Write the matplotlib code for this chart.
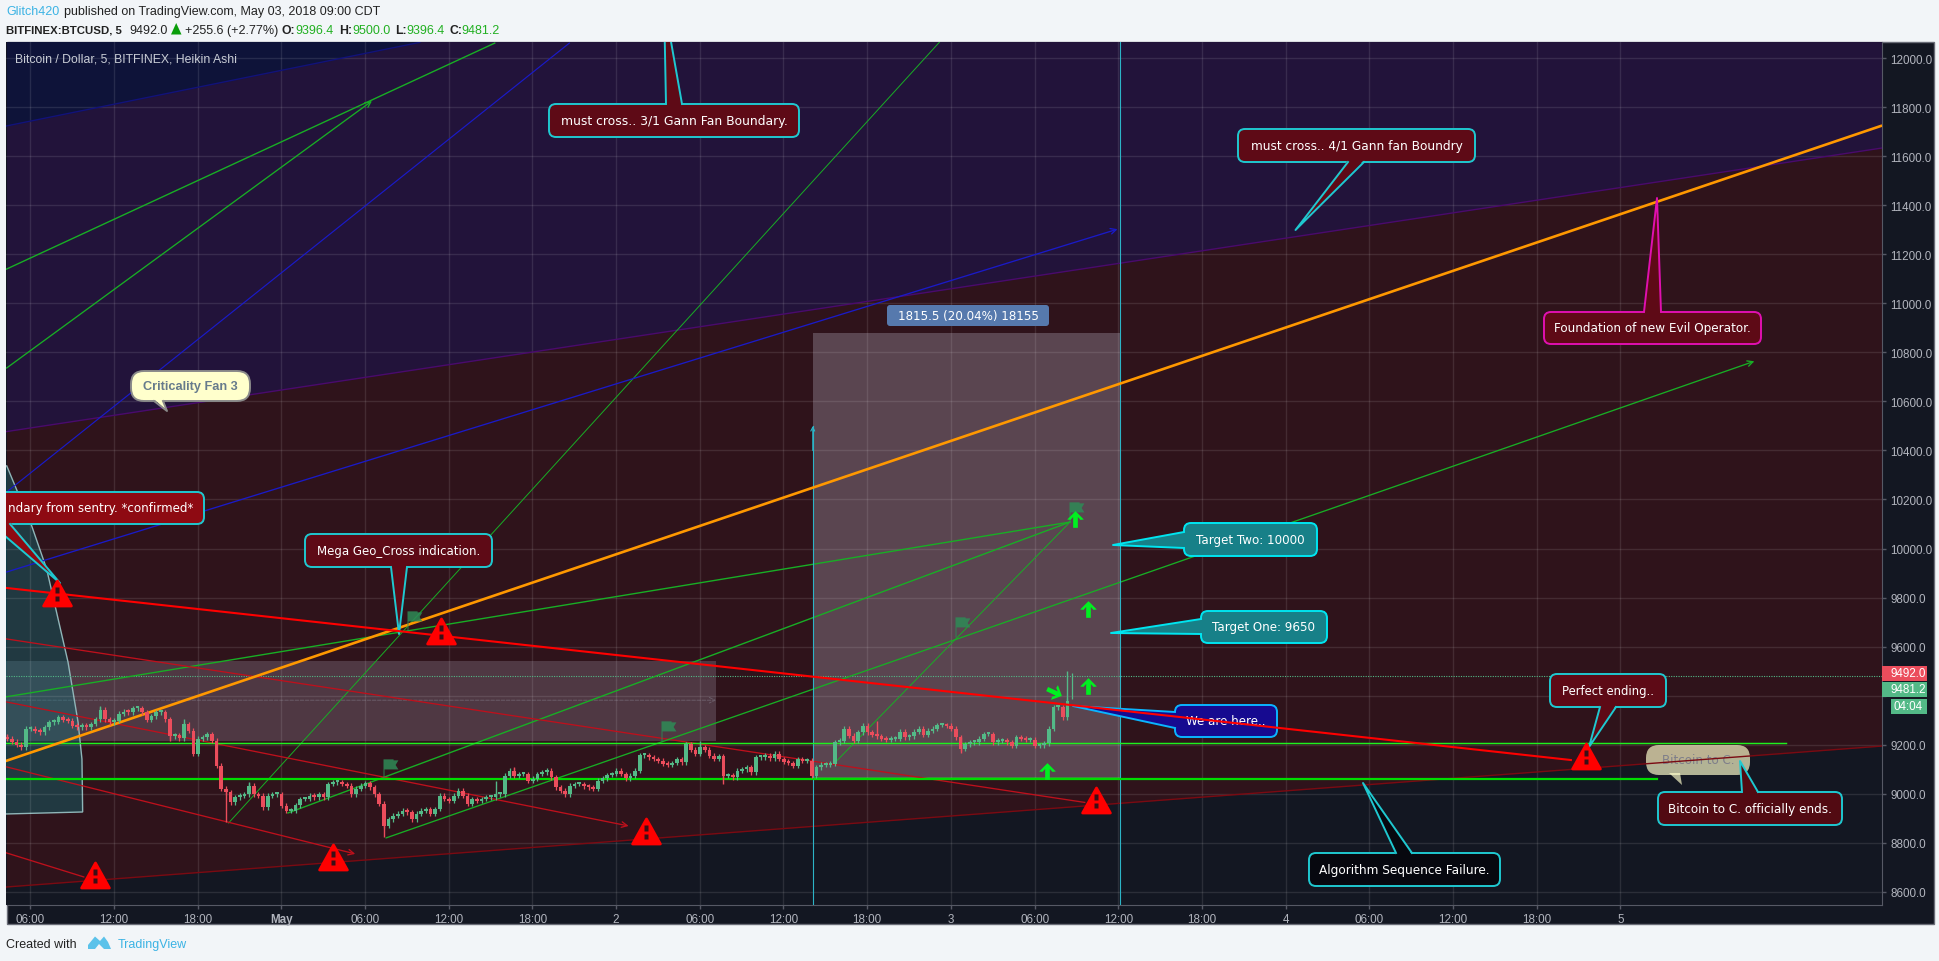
import matplotlib
matplotlib.use("Agg")
import matplotlib.pyplot as plt
import matplotlib.transforms as mtrans
from matplotlib.patches import FancyBboxPatch, Polygon, Rectangle
from matplotlib.path import Path
import numpy as np

# x unit: hours after Apr 30 06:00
tick_hours = [0, 6, 12, 18, 24, 30, 36, 42, 48, 54, 60, 66, 72, 78, 84, 90, 96, 102, 108, 114]
tick_labels = ['06:00', '12:00', '18:00', 'May', '06:00', '12:00', '18:00', '2', '06:00', '12:00',
               '18:00', '3', '06:00', '12:00', '18:00', '4', '06:00', '12:00', '18:00', '5']
price_ticks = list(range(8600, 12001, 200))

# closes, one every 20 minutes
first_hour = -1.64
closes = [
    9223, 9212, 9200, 9189, 9264, 9264, 9257, 9250, 9270, 9291, 9293, 9311, 9302, 9298, 9277, 9270,
    9277, 9270, 9284, 9304, 9342, 9304, 9291, 9298, 9325, 9334, 9332, 9348, 9348, 9332, 9302, 9315,
    9332, 9332, 9304, 9234, 9239, 9226, 9284, 9257, 9162, 9223, 9230, 9243, 9216, 9114, 9019, 9005,
    8964, 8985, 8992, 8998, 9032, 8998, 8992, 8944, 8992, 8998, 8998, 8951, 8930, 8930,
    8953, 8978, 8978, 8992, 8985, 8998, 8985, 9039, 9046, 9046, 9039, 9032, 8998, 9019, 9032, 9043,
    9026, 8998, 8958, 8869, 8896, 8910, 8917, 8930, 8924, 8896, 8917, 8930, 8937, 8917, 8937, 8992,
    8978, 8971, 8992, 9012, 8992, 8958, 8978, 8971, 8978, 8985, 8985, 8998, 8998, 9073, 9094, 9073,
    9080, 9080, 9053, 9060, 9080, 9087, 9094, 9066, 9026, 9012, 8998, 9032,
    9039, 9039, 9030, 9026, 9019, 9053, 9062, 9076, 9080, 9094, 9080, 9062, 9073, 9094, 9157, 9157,
    9148, 9141, 9134, 9121, 9117, 9125, 9141, 9128, 9202, 9179, 9162, 9189, 9179, 9155, 9141, 9152,
    9073, 9073, 9066, 9094, 9100, 9107, 9087, 9148, 9148, 9155, 9144, 9162, 9141, 9130, 9125, 9114,
    9141, 9134, 9134, 9073, 9107, 9117, 9117, 9121, 9209, 9216, 9264, 9236,
    9216, 9250, 9277, 9250, 9239, 9234, 9223, 9220, 9223, 9223, 9253, 9230, 9234, 9253, 9264, 9239,
    9257, 9264, 9280, 9280, 9277, 9264, 9230, 9182, 9202, 9209, 9209, 9223, 9243, 9243, 9209, 9216,
    9216, 9209, 9196, 9230, 9223, 9220, 9220, 9196, 9198, 9206, 9264, 9352, 9352, 9311, 9379, 9481.2,
]
# longer wicks: candle index, far end of the wick
wick_index = [0, 20, 35, 38, 47, 52, 81, 105, 109, 146, 149, 154, 160, 187, 205, 228]
wick_price = [9245, 9358, 9215, 9305, 8883, 9049, 8821, 9053, 9110, 9209, 9215, 9039, 9110, 9295, 9165, 9500]

# zone boundaries
zone_h = [-1.7, 132.75]
purple_edge = [10477, 11634]
lower_edge = [8619, 9194]
navy_h = [-1.7, 27.93]
navy_edge = [11724, 12065]

# thin trend lines, [h0, h1], [p0, p1]
green_thin = [
    ([-1.7, 33.3], [11140, 12062]),
    ([-1.7, 74.54], [9395, 10108]),
    ([18.48, 74.54], [8921, 10108]),
]
green_hair = [
    ([14.22, 65.2], [8880, 12067]),
    ([57.6, 74.54], [9121, 10108]),
]
green_arrows = [
    ([-1.7, 24.5], [10736, 11826]),
    ([25.5, 123.6], [8819, 10764]),
]
blue_lines = [([-1.7, 38.65], [10230, 12062])]
blue_arrows = [([-1.7, 77.95], [9904, 11303])]
red_lines = [
    ([-1.7, 75.6], [9631, 8964]),
    ([-1.7, 3.84], [8758, 8660]),
]
red_arrows = [
    ([-1.7, 42.9], [9374, 8868]),
    ([-1.7, 23.3], [9109, 8754]),
]
main_red_h, main_red_p = [-1.7, 110.45], [9839, 9137]
orange_h, orange_p = [-1.7, 132.67], [9134, 11724]
level_upper, level_upper_end = 9208, 125.9
level_lower, level_lower_end = 9060, 116.6
last_close = 9481.2

left_box_h, left_box_p = [-1.7, 49.16], [9216, 9541]
left_box_mid = 9381
range_h, range_p = [56.1, 78.12], [9062.5, 10878]
range_arrow_top = 10500

fan_h = [-3, -1.68, 0.11, 1.18, 2.71, 3.43, 3.71, 3.76, -1.64, -3]
fan_p = [10337, 10337, 10092, 9916, 9537, 9292, 9141, 8925, 8917, 8917]

warn_h = [1.92, 29.45, 4.65, 21.68, 44.14, 76.37, 111.56]
warn_p = [9820, 9663, 8668, 8743, 8849, 8974, 9153]
flag_h = [25.27, 45.2, 27.0, 66.3, 74.47]
flag_p = [9059, 9214, 9663, 9639, 10108]
up_h = [72.87, 75.8, 75.83, 74.9]
up_p = [9092, 9440, 9753, 10120]
turn_h, turn_p = 73.4, 9414

BG = '#F2F5F8'
PANE = '#131722'
CYAN = '#1FC8D0'
LABEL = '#B2B5BE'
UP = '#53B987'
DOWN = '#EB4D5C'
GREEN_LINE = '#18AE25'
BLUE_LINE = '#1A1AC8'
RED_LINE = '#BE101C'
TEAL_LINE = '#2CB4C6'
SANS = 'Liberation Sans'

W, H = 1940, 962
fig = plt.figure(figsize=(W / 100, H / 100), dpi=100, facecolor=BG)
px = mtrans.Affine2D().scale(1, -1).translate(0, H)  # top-left pixel coords for the drawings

fig.add_artist(Rectangle((6.5, 43.3), 1927, 882, transform=px, facecolor=PANE, edgecolor='#6A6D78', lw=1, zorder=-1))

ax = fig.add_axes([6.5 / W, (H - 906) / H, (1882 - 6.5) / W, (906 - 43.3) / H], facecolor=PANE)
for s in ['left', 'top']:
    ax.spines[s].set_visible(False)
for s in ['right', 'bottom']:
    ax.spines[s].set_color('#565965')

# zones
ax.fill_between(zone_h, lower_edge, purple_edge, color='#2F131B', lw=0, zorder=0)
ax.fill_between(zone_h, purple_edge, [12100, 12100], color='#22133A', lw=0, zorder=0)
ax.fill_between(navy_h, navy_edge, [12100, 12100], color='#0E1339', lw=0, zorder=0.1)
ax.plot(zone_h, purple_edge, color='#4B0A6B', lw=1, zorder=3)
ax.plot(zone_h, lower_edge, color='#7A0A12', lw=1, zorder=3)
ax.plot(navy_h, navy_edge, color='#12127A', lw=1, zorder=3)

ax.set_axisbelow(False)
ax.grid(True, color='white', alpha=0.1, lw=1, zorder=1)
for gl in ax.get_xgridlines() + ax.get_ygridlines():
    gl.set_zorder(1)

# grey boxes
ax.fill_between(left_box_h, left_box_p[0], left_box_p[1], color='#DCDCF0', alpha=0.19, lw=0, zorder=2)
ax.fill_between(range_h, range_p[0], range_p[1], color='#DCDCF0', alpha=0.25, lw=0, zorder=2)
ax.hlines(range_p[0], range_h[0], range_h[1], color='#3E8E41', lw=2, zorder=2.2)
ax.annotate('', xy=(left_box_h[1], left_box_mid), xytext=(left_box_h[0], left_box_mid),
            arrowprops=dict(arrowstyle='->', color='#6A5C68', lw=0.7, ls='--', shrinkA=0, shrinkB=0), zorder=2.2)

# fan
ax.fill(fan_h, fan_p, facecolor=(12 / 255, 116 / 255, 124 / 255, 0.4), edgecolor='#8FB5B8', lw=1, zorder=2.4)

# trend lines
ax.axhline(last_close, color=UP, lw=0.8, ls=(0, (1, 1.2)), zorder=2.6)
for lh, lp in green_thin:
    ax.plot(lh, lp, color=GREEN_LINE, lw=1, zorder=3)
for lh, lp in green_hair:
    ax.plot(lh, lp, color=GREEN_LINE, lw=0.7, zorder=3)
for lh, lp in blue_lines:
    ax.plot(lh, lp, color=BLUE_LINE, lw=0.85, zorder=3)
for lh, lp in red_lines:
    ax.plot(lh, lp, color=RED_LINE, lw=0.95, zorder=3)
for arrows, col in [(green_arrows, GREEN_LINE), (blue_arrows, BLUE_LINE), (red_arrows, RED_LINE)]:
    for lh, lp in arrows:
        ax.annotate('', xy=(lh[1], lp[1]), xytext=(lh[0], lp[0]), zorder=3,
                    arrowprops=dict(arrowstyle='->', color=col, lw=0.95, shrinkA=0, shrinkB=0, mutation_scale=10))

ax.plot([range_h[0], range_h[0]], [8500, range_arrow_top], color=TEAL_LINE, lw=0.8, zorder=3)
ax.annotate('', xy=(range_h[0], range_arrow_top), xytext=(range_h[0], range_arrow_top - 100), zorder=3,
            arrowprops=dict(arrowstyle='->', color=TEAL_LINE, lw=0.8, shrinkA=0, shrinkB=0, mutation_scale=7))
ax.plot([range_h[1], range_h[1]], [8500, 12100], color=TEAL_LINE, lw=0.8, zorder=3)

ax.plot([zone_h[0], level_upper_end], [level_upper, level_upper], color='#1FF01F', lw=1.05, zorder=3.2)
ax.plot([zone_h[0], level_lower_end], [level_lower, level_lower], color='#00DD00', lw=1.6, zorder=3.2)
ax.plot(orange_h, orange_p, color='#FF9800', lw=1.9, zorder=3.4)

# candles
n = len(closes)
hours = first_hour + np.arange(n) / 3
c = np.array(closes, dtype=float)
o = np.concatenate(([c[0] + 8], c[:-1]))
o[-1] = 9396.4
colors = np.where(c >= o, UP, DOWN)
ax.bar(hours[:-1], np.maximum(np.abs(c - o), 8)[:-1], bottom=np.minimum(o, c)[:-1], width=0.26, color=colors[:-1], lw=0, zorder=4)
ax.vlines(hours, np.minimum(o, c) - 10, np.maximum(o, c) + 10, colors=colors, lw=0.9, zorder=4)
for i, w in zip(wick_index, wick_price):
    ax.vlines(hours[i], min(w, o[i], c[i]), max(w, o[i], c[i]), colors=colors[i], lw=1, zorder=4)

# flags
flag_path = Path([(0, 0), (0, 1), (0.5, 1), (0.5, 0.95), (0.74, 0.95), (0.6, 0.72), (0.74, 0.5), (0.05, 0.5), (0.05, 0), (0, 0)], closed=True)
ax.plot(flag_h, flag_p, ls='', marker=flag_path, ms=29, mfc='#2E8B57', mec='none', alpha=0.85, zorder=4.5)

# warning signs: red triangle, then the dark '!' on top
warn_path = Path([(-1, -0.9), (1, -0.9), (0, 0.9), (-1, -0.9)], closed=True)
ax.plot(warn_h, warn_p, ls='', marker=warn_path, ms=20, mfc='#FF0000', mec='#FF0000', mew=2, zorder=8)
mark_verts = [(1, 0), (1, 0)]
mark_codes = [Path.MOVETO, Path.LINETO]
for x0, x1, y0, y1 in [(-0.17, 0.17, 0.02, 0.42), (-0.17, 0.17, -0.22, -0.58)]:
    mark_verts += [(x0, y0), (x1, y0), (x1, y1), (x0, y1), (x0, y0)]
    mark_codes += [Path.MOVETO, Path.LINETO, Path.LINETO, Path.LINETO, Path.CLOSEPOLY]
mark_path = Path(mark_verts, mark_codes)
ax.plot(warn_h, warn_p, ls='', marker=mark_path, ms=20, mfc='#3A0F16', mec='none', zorder=8.1)

up_path = Path([(0, 1), (1, 0), (0.6, -0.05), (0.28, 0.3), (0.28, -1), (-0.28, -1), (-0.28, 0.3),
                (-0.6, -0.05), (-1, 0), (0, 1)], closed=True)
ax.plot(up_h, up_p, ls='', marker=up_path, ms=12, mfc='#00F020', mec='none', zorder=5)
turn_path = up_path.transformed(mtrans.Affine2D().rotate_deg(-115))
ax.plot([turn_h], [turn_p], ls='', marker=turn_path, ms=12, mfc='#00F020', mec='none', zorder=5)


def callout(x0, y0, x1, y1, a, b, tip, text, face, edge=CYAN, tcolor='white', size=8.6, radius=7,
            z=6, lw=1.4, ha='center', tx=None, family='DejaVu Sans', weight='normal', alpha=1.0):
    box = FancyBboxPatch((x0, y0), x1 - x0, y1 - y0, boxstyle='round,pad=0,rounding_size=%g' % radius,
                         transform=px, facecolor=face, edgecolor=edge, lw=lw, zorder=z, alpha=alpha)
    ax.add_patch(box)
    cx, cy = (x0 + x1) / 2, (y0 + y1) / 2
    if a[0] == b[0]:
        shift = (2 if cx > a[0] else -2, 0)
    else:
        shift = (0, 2 if cy > a[1] else -2)
    fill = [(a[0] + shift[0], a[1] + shift[1]), tip, (b[0] + shift[0], b[1] + shift[1])]
    ax.add_patch(Polygon(fill, closed=True, transform=px, facecolor=face, edgecolor='none', zorder=z + 0.01, alpha=alpha))
    if edge != 'none':
        ax.plot([a[0], tip[0], b[0]], [a[1], tip[1], b[1]], transform=px, color=edge, lw=lw, zorder=z + 0.02)
    ax.text(cx if tx is None else tx, cy, text, transform=px, color=tcolor, fontsize=size, ha=ha, va='center',
            family=family, fontweight=weight, zorder=z + 0.03, clip_on=True)


MAROON = '#5E0A16'
callout(549, 105, 799, 138, (666, 105), (682, 105), (664, 3), 'must cross.. 3/1 Gann Fan Boundary.', MAROON, size=8.9)
callout(1238, 130, 1475, 163, (1348, 163), (1364, 163), (1295.5, 231), 'must cross.. 4/1 Gann fan Boundry', MAROON, size=8.75)
callout(1544, 313, 1761, 345, (1644, 313), (1661, 313), (1657, 199), 'Foundation of new Evil Operator.', MAROON, edge='#E010B0', size=8.65)
callout(131, 372, 250, 402, (154, 402), (163, 402), (167, 412), 'Criticality Fan 3', '#FFFFCC', edge='#8A8A8A',
        tcolor='#667B8C', size=9.2, radius=13, family=SANS, weight='bold')
callout(-120, 493, 204, 525, (-9, 525), (10, 525), (60, 584), 'ndary from sentry. *confirmed*', '#8E0A12',
        size=8.6, ha='right', tx=193)
callout(305, 535, 492, 568, (391, 568), (407, 568), (399, 635), 'Mega Geo_Cross indication.', MAROON, size=8.5)
callout(1184, 524, 1317, 557, (1184, 533), (1184, 549), (1113, 546), 'Target Two: 10000', '#178088', edge='#00E5F0', size=8.6)
callout(1201, 612, 1327, 644, (1201, 620), (1201, 635), (1111, 634), 'Target One: 9650', '#178088', edge='#00E5F0', size=8.6)
callout(1175, 706, 1277, 738, (1175, 713), (1175, 729), (1073, 707), 'We are here..', '#160A90', edge='#0AB4FF', size=8.6)
callout(1550, 675, 1666, 708, (1600, 708), (1616, 708), (1589, 748), 'Perfect ending..', MAROON, size=8.4)
callout(1646, 746, 1750, 776, (1669, 776), (1680, 776), (1682, 786), 'Bitcoin to C.', '#FFFFCC', edge='none',
        tcolor='#7E7E8A', size=8.6, radius=13, z=2.5, alpha=0.68)
callout(1658, 793, 1842, 826, (1742, 793), (1758, 793), (1740, 762), 'Bitcoin to C. officially ends.', '#520A12', size=8.65)
callout(1309, 854, 1500, 887, (1396, 854), (1412, 854), (1363, 784), 'Algorithm Sequence Failure.', '#07080F', size=8.7)

# main red line runs over the 'We are here' note
ax.plot(main_red_h, main_red_p, color='#FF0000', lw=1.5, zorder=7)

ax.add_patch(FancyBboxPatch((887, 306), 162, 21, boxstyle='round,pad=0,rounding_size=3', transform=px,
                            facecolor='#5679AD', edgecolor='none', zorder=6))
ax.text(968, 316.5, '1815.5 (20.04%) 18155', transform=px, color='white', fontsize=8.6, family='DejaVu Sans',
        ha='center', va='center', zorder=6.1)
ax.text(15, 60, 'Bitcoin / Dollar, 5, BITFINEX, Heikin Ashi', transform=px, color='#C9CDD6', fontsize=8.8,
        family=SANS, va='center', zorder=9)

# axes
ax.set_xlim(-1.699, 132.75)
ax.set_ylim(8545.5, 12065.3)
ax.set_xticks(tick_hours)
ax.set_xticklabels(tick_labels, family=SANS, fontsize=8.4, color=LABEL)
for lab, txt in zip(ax.get_xticklabels(), tick_labels):
    if txt == 'May':
        lab.set_fontweight('bold')
ax.set_yticks(price_ticks)
# 9400.0 sits under the last price tags
ax.set_yticklabels(['' if v == 9400 else '%.1f' % v for v in price_ticks], family=SANS, fontsize=8.4, color=LABEL)
ax.yaxis.tick_right()
ax.tick_params(axis='x', length=3, width=1, color='#565965', pad=3)
ax.tick_params(axis='y', length=3, width=1, color='#565965', pad=3)

# last price tags
for y0, y1, x0, txt, col in [(667, 682, 1882, '9492.0', DOWN), (683, 698, 1882, '9481.2', UP), (700, 715, 1891, '04:04', UP)]:
    fig.add_artist(Rectangle((x0, y0), 1926.5 - x0, y1 - y0, transform=px, facecolor=col, edgecolor='none', zorder=10))
    fig.text(1908.5, (y0 + y1) / 2, txt, transform=px, color='white', fontsize=8.4, family=SANS, ha='center', va='center', zorder=11)

# header
DARK = '#222222'
LINK = '#3BB3E4'
GRN = '#22B022'
fig.text(6, 12.5, 'Glitch420', transform=px, color=LINK, fontsize=9, family=SANS, va='center')
fig.text(64, 12.5, 'published on TradingView.com, May 03, 2018 09:00 CDT', transform=px, color=DARK, fontsize=9, family=SANS, va='center')
for x, txt, col, size, bold in [(6, 'BITFINEX:BTCUSD, 5', DARK, 8.2, True), (129, '9492.0', DARK, 9, False), (185, '+255.6 (+2.77%)', DARK, 9, False),
                                (281, 'O:', DARK, 8.8, True), (295, '9396.4', GRN, 9, False), (339, 'H:', DARK, 8.8, True), (352, '9500.0', GRN, 9, False),
                                (395, 'L:', DARK, 8.8, True), (406, '9396.4', GRN, 9, False), (449, 'C:', DARK, 8.8, True), (461, '9481.2', GRN, 9, False)]:
    fig.text(x, 31, txt, transform=px, color=col, fontsize=size, family=SANS, va='center', fontweight='bold' if bold else 'normal')
fig.add_artist(Polygon([(171, 35.5), (181.5, 35.5), (176.2, 24)], closed=True, transform=px, facecolor='#0A9E0A', edgecolor='none'))

# footer
fig.text(6, 945, 'Created with', transform=px, color=DARK, fontsize=9, family=SANS, va='center')
fig.add_artist(Polygon([(88, 946), (95, 937.5), (100, 942), (104, 937.5), (108, 943), (111, 950), (104, 950), (99, 945), (95, 950), (88, 950)],
                       closed=True, transform=px, facecolor='#5BC2EA', edgecolor='none'))
fig.text(118, 945, 'TradingView', transform=px, color=LINK, fontsize=9, family=SANS, va='center')

fig.savefig('out.png', dpi=100, facecolor=BG)
